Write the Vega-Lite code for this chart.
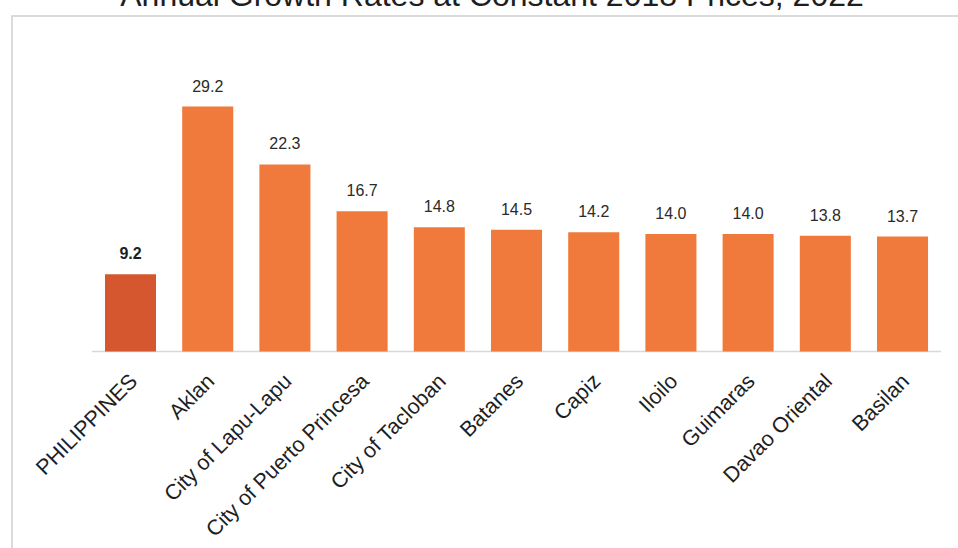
{
  "$schema": "https://vega.github.io/schema/vega-lite/v6.json",
  "autosize": "none",
  "padding": {"left": 12, "top": 16, "right": 0, "bottom": 0},
  "width": 960,
  "height": 545,
  "background": "white",
  "title": {
    "text": "Annual Growth Rates at Constant 2018 Prices, 2022",
    "frame": "group",
    "anchor": "middle",
    "baseline": "alphabetic",
    "offset": -22,
    "fontSize": 32,
    "font": "Liberation Sans",
    "fontWeight": "normal",
    "color": "#1e1e1e"
  },
  "config": {
    "view": {"stroke": "#cfcfcf", "strokeWidth": 1.5},
    "font": "Liberation Sans"
  },
  "data": {
    "values": [
      {"area": "PHILIPPINES", "rate": 9.2, "group": "National"},
      {"area": "Aklan", "rate": 29.2, "group": "Region"},
      {"area": "City of Lapu-Lapu", "rate": 22.3, "group": "Region"},
      {"area": "City of Puerto Princesa", "rate": 16.7, "group": "Region"},
      {"area": "City of Tacloban", "rate": 14.8, "group": "Region"},
      {"area": "Batanes", "rate": 14.5, "group": "Region"},
      {"area": "Capiz", "rate": 14.2, "group": "Region"},
      {"area": "Iloilo", "rate": 14.0, "group": "Region"},
      {"area": "Guimaras", "rate": 14.0, "group": "Region"},
      {"area": "Davao Oriental", "rate": 13.8, "group": "Region"},
      {"area": "Basilan", "rate": 13.7, "group": "Region"}
    ]
  },
  "encoding": {
    "x": {
      "field": "area",
      "type": "nominal",
      "sort": null,
      "scale": {"paddingInner": 0.339, "paddingOuter": 0.887, "align": 0.679},
      "axis": {
        "title": null,
        "labelAngle": -45,
        "labelFontSize": 21.5,
        "labelColor": "#1e1e1e",
        "labelFont": "Liberation Sans",
        "labelLimit": 0,
        "ticks": false,
        "domain": false,
        "grid": false,
        "labelPadding": 13,
        "labelOffset": -4,
        "offset": -204
      }
    }
  },
  "layer": [
    {
      "mark": {"type": "tick", "size": 77.2, "thickness": 1.5, "color": "#c8c8c8", "orient": "horizontal"},
      "encoding": {
        "y": {"datum": 0, "type": "quantitative", "scale": {"domain": [-22.92, 38.31]}, "axis": null}
      }
    },
    {
      "mark": {"type": "bar"},
      "encoding": {
        "y": {"field": "rate", "type": "quantitative"},
        "color": {
          "field": "group",
          "type": "nominal",
          "scale": {"domain": ["National", "Region"], "range": ["#D5572F", "#F07A3B"]},
          "legend": null
        }
      }
    },
    {
      "transform": [{"filter": "datum.group === 'Region'"}],
      "mark": {"type": "text", "baseline": "alphabetic", "dy": -15, "fontSize": 16, "color": "#2a2a2a", "font": "Liberation Sans"},
      "encoding": {
        "y": {"field": "rate", "type": "quantitative"},
        "text": {"field": "rate", "type": "quantitative", "format": ".1f"}
      }
    },
    {
      "transform": [{"filter": "datum.group === 'National'"}],
      "mark": {"type": "text", "baseline": "alphabetic", "dy": -15, "fontSize": 16, "fontWeight": "bold", "color": "#1e1e1e", "font": "Liberation Sans"},
      "encoding": {
        "y": {"field": "rate", "type": "quantitative"},
        "text": {"field": "rate", "type": "quantitative", "format": ".1f"}
      }
    }
  ]
}
